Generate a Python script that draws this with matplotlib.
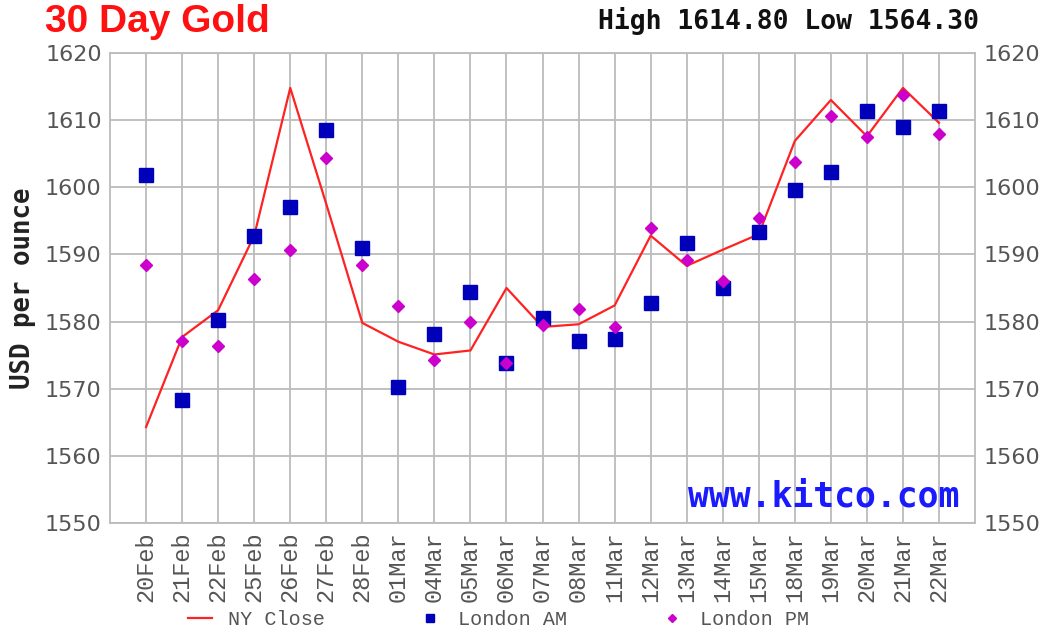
import matplotlib
matplotlib.use("Agg")
import matplotlib.pyplot as plt

# == Data ==
dates = ["20Feb", "21Feb", "22Feb", "25Feb", "26Feb", "27Feb", "28Feb",
         "01Mar", "04Mar", "05Mar", "06Mar", "07Mar", "08Mar", "11Mar",
         "12Mar", "13Mar", "14Mar", "15Mar", "18Mar", "19Mar", "20Mar",
         "21Mar", "22Mar"]
ny_close = [1564.3, 1577.7, 1581.7, 1592.8, 1614.8, 1597.5, 1579.8,
            1577.0, 1575.1, 1575.7, 1585.0, 1579.2, 1579.6, 1582.4,
            1592.8, 1588.3, 1590.7, 1593.0, 1606.9, 1613.0, 1607.6,
            1614.8, 1609.6]
london_am = [1601.9, 1568.3, 1580.2, 1592.7, 1597.1, 1608.6, 1590.9,
             1570.2, 1578.1, 1584.4, 1573.9, 1580.6, 1577.1, 1577.4,
             1582.7, 1591.7, 1585.0, 1593.4, 1599.6, 1602.3, 1611.4,
             1609.0, 1611.4]
london_pm = [1588.5, 1577.1, 1576.3, 1586.4, 1590.6, 1604.4, 1588.4,
             1582.3, 1574.3, 1579.9, 1573.9, 1579.5, 1581.9, 1579.2,
             1594.0, 1589.2, 1586.1, 1595.4, 1603.7, 1610.6, 1607.5,
             1613.8, 1607.9]
y_ticks = [1550, 1560, 1570, 1580, 1590, 1600, 1610, 1620]
high, low = 1614.80, 1564.30

x = list(range(len(dates)))

# Figure with fixed axes placement
fig = plt.figure(figsize=(10.5, 6.3), dpi=100)
ax = fig.add_axes([0.1048, 0.1698, 0.8238, 0.7461])

# Lines and markers
line, = ax.plot(x, ny_close, color="#ff2222", linewidth=1.6, label="NY Close", zorder=3)
am, = ax.plot(x, london_am, linestyle="none", marker="s", markersize=10,
              color="#0000bb", label="London AM", zorder=4)
pm, = ax.plot(x, london_pm, linestyle="none", marker="D", markersize=6.5,
              color="#cc00cc", label="London PM", zorder=5)

# Axes limits and ticks
ax.set_xlim(-1, len(dates))
ax.set_ylim(1550, 1620)
ax.set_xticks(x)
ax.set_xticklabels(dates, rotation=90, family="Liberation Mono",
                   fontsize=17, color="#555555")
ax.set_yticks(y_ticks)
ax.set_yticklabels([str(v) for v in y_ticks], fontsize=16, color="#555555")
ax.tick_params(axis="both", length=0, pad=6)
ax.tick_params(axis="y", labelright=True, right=False)

# Grid and frame
ax.grid(True, color="#bbbbbb", linewidth=1.3)
ax.set_axisbelow(True)
for s in ax.spines.values():
    s.set_color("#bbbbbb")
    s.set_linewidth(1.3)

ax.set_ylabel("USD per ounce", family="DejaVu Sans Mono", fontweight="bold",
              fontsize=18.5, color="#222222", labelpad=6)

# Watermark
ax.text(0.982, 0.02, "www.kitco.com", transform=ax.transAxes, ha="right", va="bottom",
        family="DejaVu Sans Mono", fontweight="bold", fontsize=25, color="#1a1aff", zorder=6)

# Titles
fig.text(0.043, 0.965, "30 Day Gold", color="#ff1111", fontsize=28, fontweight="bold",
         family="Liberation Sans", ha="left", va="center")
fig.text(0.932, 0.967, f"High {high:.2f} Low {low:.2f}", family="DejaVu Sans Mono",
         fontweight="bold", fontsize=19, color="#111111", ha="right", va="center")

# Legend at bottom
fig.legend(handles=[line, am, pm], loc="center", bbox_to_anchor=(0.475, 0.017), ncol=3,
           frameon=False, columnspacing=4.6, handlelength=1.2, handletextpad=0.8,
           prop={"family": "Liberation Mono", "size": 14.5}, labelcolor="#555555",
           markerscale=0.6, borderpad=0.0)

fig.savefig("out.png", dpi=100)
